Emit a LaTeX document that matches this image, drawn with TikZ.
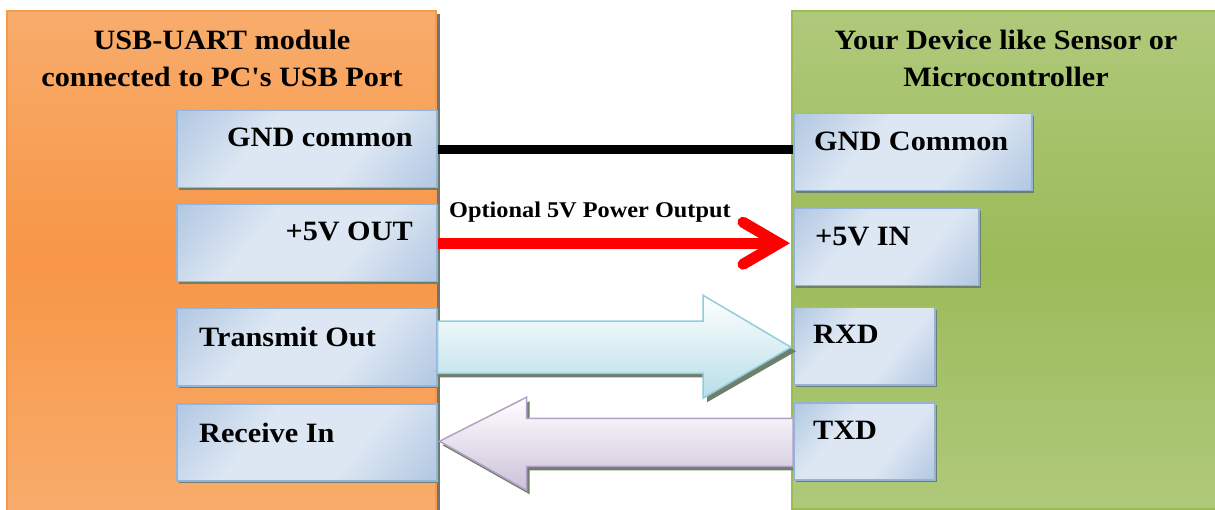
\documentclass[tikz,border=0pt]{standalone}
\usepackage{fontspec}
\setmainfont[Ligatures=TeXOff, FakeStretch=1.08]{Liberation Serif}
\usetikzlibrary{calc}
\definecolor{orL}{HTML}{FAC292}
\definecolor{orD}{HTML}{F79646}
\definecolor{orB}{HTML}{F39A4C}
\definecolor{grL}{HTML}{C4D79D}
\definecolor{grD}{HTML}{9BBB59}
\definecolor{grB}{HTML}{9BBB59}
\definecolor{blL}{HTML}{DDE7F3}
\definecolor{blD}{HTML}{95B3D7}
\definecolor{cyB}{HTML}{92CDDC}
\definecolor{cyF}{HTML}{B7DEE8}
\definecolor{puB}{HTML}{B3A2C7}
\definecolor{puF}{HTML}{CCC1DA}
\definecolor{shd}{HTML}{6F7F6C}
\pgfdeclareverticalshading{orshade}{100bp}{color(0bp)=(orL); color(50bp)=(orD); color(100bp)=(orL)}
\pgfdeclareverticalshading{grshade}{100bp}{color(0bp)=(grL); color(50bp)=(grD); color(100bp)=(grL)}
\pgfdeclarehorizontalshading{blshade}{100bp}{color(0bp)=(blD); color(38bp)=(blL); color(62bp)=(blL); color(100bp)=(blD)}
\tikzset{
  pin/.style={draw=blD, line width=1.5pt, shading=blshade, shading angle=-40, minimum height=77pt, inner sep=0pt, anchor=north west},
  title/.style={font=\bfseries\fontsize{28}{37}\selectfont, align=center, inner sep=0pt},
  lab/.style={font=\bfseries\fontsize{28}{32}\selectfont, inner sep=0pt},
  small/.style={font=\bfseries\fontsize{22.5}{26}\selectfont, inner sep=0pt},
}
\begin{document}
\begin{tikzpicture}[x=1pt,y=-1pt]
\useasboundingbox (0,0) rectangle (1215,510);
% panels
\fill[black!55] (10,14) rectangle (440,512);
\shade[shading=orshade] (7,11) rectangle (436,512);
\draw[orB, line width=1.5pt] (7,512) -- (7,11) -- (436,11) -- (436,512);
\node[draw=none, minimum width=429pt, minimum height=499pt, inner sep=0pt, anchor=north west] (left) at (7,11) {};
\shade[shading=grshade] (792,11) rectangle (1217,509);
\draw[grB, line width=1.5pt] (1217,11) -- (792,11) -- (792,509) -- (1217,509);
\node[draw=none, minimum width=423pt, minimum height=498pt, inner sep=0pt, anchor=north west] (right) at (792,11) {};
\node[title] (ltitle) at (222,58) {USB-UART module\\connected to PC's USB Port};
\node[title] (rtitle) at (1006,58) {Your Device like Sensor or\\Microcontroller};
% left pins
\foreach \n/\y in {lgnd/110, lfive/204, ltx/308, lrx/403}{
  \fill[shd] (179,\y+3) rectangle (439,\y+80);
  \node[pin, minimum width=260pt] (\n) at (176,\y) {};
}
% right pins
\foreach \n/\y/\w in {rgnd/113/238, rfive/208/185, rrx/307/141, rtx/402/141}{
  \fill[shd] (796,\y+3) rectangle (796+\w,\y+80);
  \node[pin, minimum width=\w pt] (\n) at (793,\y) {};
}
% labels
\node[lab, anchor=base east] (tlgnd) at (413,147) {GND common};
\node[lab, anchor=base east] (tlfive) at (413,241) {+5V OUT};
\node[lab, anchor=base west] (tltx) at (199,347) {Transmit Out};
\node[lab, anchor=base west] (tlrx) at (199,442) {Receive In};
\node[lab, anchor=base west] (trgnd) at (814,151) {GND Common};
\node[lab, anchor=base west] (trfive) at (815,246) {+5V IN};
\node[lab, anchor=base west] (trrx) at (813,344) {RXD};
\node[lab, anchor=base west] (trtx) at (813,439) {TXD};
% GND wire
\draw[black, line width=9pt] (lgnd.east) -- (lgnd.east -| rgnd.west);
% 5V arrow
\coordinate (tip5) at ($(lfive.east -| rfive.west)+(-14,0)$);
\draw[red, line width=11pt] (lfive.east) -- (tip5);
\draw[red, line width=11pt, line cap=round, line join=miter, miter limit=10] ($(tip5)+(-36,-21)$) -- (tip5) -- ($(tip5)+(-36,21)$);
\node[small, anchor=base west] (optlab) at (449,218) {Optional 5V Power Output};
% transmit block arrow
\coordinate (ta) at (ltx.east);
\coordinate (tb) at (ltx.east -| rrx.west);
\fill[shd] ($(ta)+(0,-23)$) -- ($(tb)+(-86,-23)$) -- ($(tb)+(-86,-49)$) -- ($(tb)+(3,4)$) -- ($(tb)+(-86,55)$) -- ($(tb)+(-86,30)$) -- ($(ta)+(0,30)$) -- cycle;
\draw[cyB, line width=1.5pt, top color=white, bottom color=cyF] ($(ta)+(0,-26)$) -- ($(tb)+(-90,-26)$) -- ($(tb)+(-90,-52)$) -- ($(tb)+(-2,0)$) -- ($(tb)+(-90,51)$) -- ($(tb)+(-90,26)$) -- ($(ta)+(0,26)$) -- cycle;
% receive block arrow
\coordinate (ra) at (rtx.west |- lrx.east);
\coordinate (rb) at (lrx.east);
\fill[shd] ($(ra)+(0,-20)$) -- ($(rb)+(92,-20)$) -- ($(rb)+(92,-41)$) -- ($(rb)+(5,3)$) -- ($(rb)+(92,52)$) -- ($(rb)+(92,28)$) -- ($(ra)+(0,28)$) -- cycle;
\draw[puB, line width=1.5pt, top color=white, bottom color=puF] ($(ra)+(0,-24)$) -- ($(rb)+(89,-24)$) -- ($(rb)+(89,-45)$) -- ($(rb)+(2,-1)$) -- ($(rb)+(89,48)$) -- ($(rb)+(89,24)$) -- ($(ra)+(0,24)$) -- cycle;
\end{tikzpicture}
\end{document}
